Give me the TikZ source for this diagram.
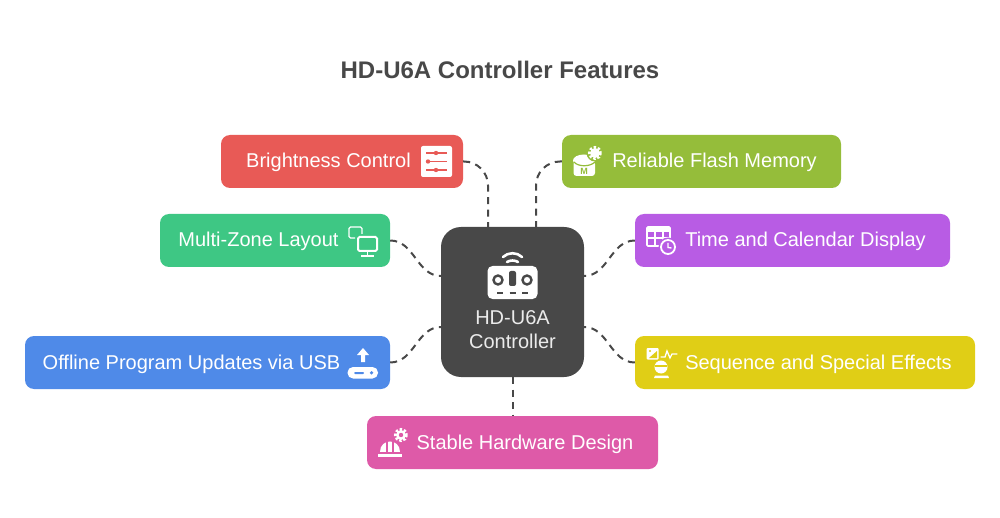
\documentclass[tikz,border=0pt]{standalone}
\usepackage{fontspec}
\setmainfont{Liberation Sans}
\definecolor{darkhub}{HTML}{484848}
\definecolor{redbox}{HTML}{E85A56}
\definecolor{greenbox}{HTML}{3EC784}
\definecolor{bluebox}{HTML}{4F8AE8}
\definecolor{pinkbox}{HTML}{DE5AA8}
\definecolor{yellowbox}{HTML}{E0CE16}
\definecolor{purplebox}{HTML}{B85CE4}
\definecolor{olivebox}{HTML}{95BD3A}
\begin{document}
\begin{tikzpicture}[x=1pt, y=-1pt,
	box/.style={rectangle, rounded corners=9pt, minimum height=53pt, text=white, text height=16pt, text depth=3pt, font=\fontsize{20}{24}\selectfont, inner sep=0pt},
	link/.style={draw=darkhub, line width=2pt, dash pattern=on 7pt off 5.5pt},
	pen/.style={draw=white, line width=1.8pt, line cap=round},
	gear/.style={draw=white, line width=3pt, dash pattern=on 2.2pt off 1.8pt}]
	\useasboundingbox (0,0) rectangle (1000,518);
	\node[text=darkhub, font=\bfseries\fontsize{24}{28}\selectfont] (title) at (500,70) {HD-U6A Controller Features};
	\node[rectangle, inner sep=0pt, font=\fontsize{20}{24}\selectfont, fill=darkhub, minimum width=143pt, minimum height=150pt, rounded corners=20pt, align=center, text=white!92!black] (hub) at (512.5,302) {\mbox{}\\[46pt]HD-U6A\\Controller};
	\node[box, fill=redbox, minimum width=242pt] (bright) at (342,161.5) {Brightness Control\hspace{27pt}\mbox{}};
	\node[box, fill=olivebox, minimum width=279pt] (flash) at (701.5,161.5) {\hspace{26pt}Reliable Flash Memory};
	\node[box, fill=greenbox, minimum width=230pt] (zone) at (275,240.5) {Multi-Zone Layout\hspace{33pt}\mbox{}};
	\node[box, fill=purplebox, minimum width=315pt] (time) at (792.5,240.5) {\hspace{26pt}Time and Calendar Display};
	\node[box, fill=bluebox, minimum width=365pt] (usb) at (207.5,362.5) {Offline Program Updates via USB\hspace{32pt}\mbox{}};
	\node[box, fill=yellowbox, minimum width=340pt] (seq) at (805,362.5) {\hspace{27pt}Sequence and Special Effects};
	\node[box, fill=pinkbox, minimum width=291pt] (stable) at (512.5,442.5) {\hspace{25pt}Stable Hardware Design};
	\coordinate (topleft) at (488,227);
	\coordinate (topright) at (536,227);
	\coordinate (upleft) at (441,276);
	\coordinate (upright) at (584,276);
	\coordinate (lowleft) at (441,327);
	\coordinate (lowright) at (584,327);
	\draw[link, rounded corners=24pt] (bright.east) -| (topleft);
	\draw[link, rounded corners=24pt] (flash.west) -| (topright);
	\draw[link] (zone.east) to[out=0, in=180] (upleft);
	\draw[link] (time.west) to[out=180, in=0] (upright);
	\draw[link] (usb.east) to[out=0, in=180] (lowleft);
	\draw[link] (seq.west) to[out=180, in=0] (lowright);
	\draw[link] (hub.south) -- (stable.north);
	% remote
	\fill[white, rounded corners=5pt] (487.5,266) rectangle (537.5,299);
	\draw[darkhub, line width=2.4pt] (498,280) circle (4.5) (527,280) circle (4.5);
	\fill[darkhub, rounded corners=2pt] (509,271) rectangle (516,286);
	\draw[darkhub, line width=2.4pt] (497,293) -- (503,293) (509.5,293) -- (515.5,293) (522,293) -- (528,293);
	\draw[pen, line width=2.6pt] (503,257) .. controls (508,252) and (517,252) .. (522,257);
	\draw[pen, line width=2.6pt] (507,262) .. controls (510,260) and (515,260) .. (518,262);
	% sliders
	\fill[white, rounded corners=2pt] (421,146) rectangle (452,177);
	\draw[redbox, line width=1.8pt] (426,153) -- (447,153) (426,161.5) -- (447,161.5) (426,170) -- (447,170);
	\fill[redbox] (436,153) circle (2.2) (428,161.5) circle (2.2) (436,170) circle (2.2);
	% monitors
	\draw[white, line width=1.4pt, rounded corners=1.5pt] (355,238) -- (349,238) -- (349,227) -- (362,227) -- (362,234);
	\draw[white, line width=2pt, rounded corners=1.5pt] (358,237) rectangle (377,251);
	\draw[white, line width=1.8pt] (367.5,251) -- (367.5,255) (361,256) -- (374,256);
	% database and gear
	\fill[white, rounded corners=3pt] (573.5,161) rectangle (595,176);
	\fill[white] (584,160.5) ellipse (11 and 6);
	\draw[olivebox, line width=1.2pt] (574,162) .. controls (578,167) and (590,167) .. (595,162);
	\node[text=olivebox, font=\bfseries\fontsize{9}{9}\selectfont, inner sep=0pt] (flashmark) at (584,171) {M};
	\fill[olivebox] (595,153) circle (8.5);
	\draw[gear] (595,153) circle (5.5);
	\fill[white] (595,153) circle (5);
	% calendar
	\draw[white, line width=1.6pt, rounded corners=1pt] (647,227) rectangle (670,246);
	\fill[white] (647,227) rectangle (670,232);
	\draw[white, line width=1.2pt] (647,238) -- (670,238) (655,232) -- (655,246) (663,232) -- (663,246);
	\fill[purplebox] (668,247) circle (9.5);
	\draw[white, line width=1.8pt] (668,247) circle (7);
	\draw[white, line width=1.3pt] (668,243) -- (668,247.5) -- (671.5,248);
	% image, pulse and figure
	\fill[white, rounded corners=1pt] (646.5,348) rectangle (658.5,359.5);
	\fill[yellowbox] (649,358) -- (657,358) -- (657,351) -- cycle;
	\fill[yellowbox] (650,351) circle (1.2);
	\draw[pen, line width=1.3pt] (661,357) -- (665,357) -- (667,351) -- (670,358) -- (672,354) -- (677,354);
	\fill[white] (661,367) circle (6.5);
	\draw[yellowbox, line width=1.2pt] (655,366) -- (667,366);
	\fill[white] (655,375.5) -- (668,375.5) -- (669,378) -- (654,378) -- cycle;
	% usb stick
	\fill[white, rounded corners=5.5pt] (347.5,367) rectangle (378,378.5);
	\fill[bluebox, rounded corners=1pt] (354,372) rectangle (364,374);
	\fill[bluebox] (371.5,372.8) circle (1.8);
	\fill[white] (363,348) -- (369,355) -- (365,355) -- (365,362) -- (361,362) -- (361,355) -- (357,355) -- cycle;
	% helmet and gear
	\fill[white] (378,453.5) rectangle (401.5,456.5);
	\fill[white] (380,451.5) .. controls (380,438) and (400,438) .. (400,451.5) -- cycle;
	\draw[pinkbox, line width=1.3pt] (387,441) -- (387,451.5) (393,441) -- (393,451.5);
	\fill[pinkbox] (401,435) circle (8.5);
	\draw[gear] (401,435) circle (5.5);
	\fill[white] (401,435) circle (5);
	\fill[pinkbox] (401,435) circle (2.2);
\end{tikzpicture}
\end{document}
